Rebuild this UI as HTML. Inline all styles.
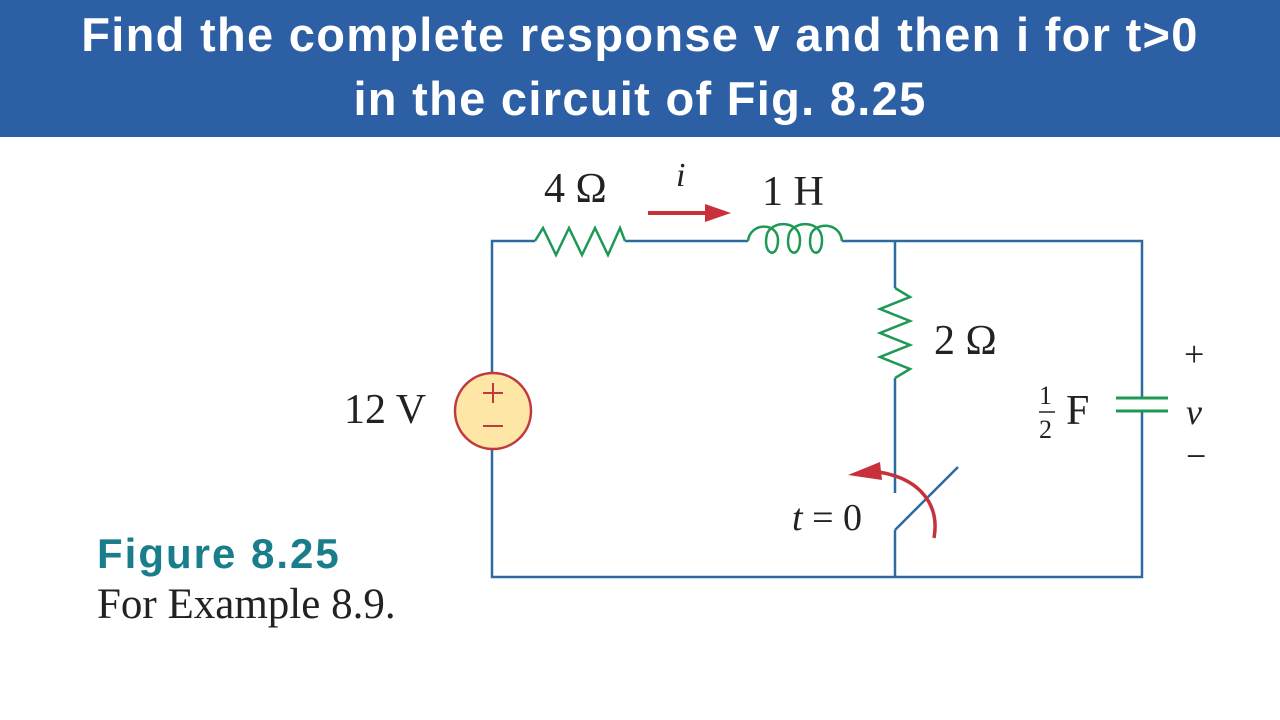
<!DOCTYPE html>
<html><head><style>
body{margin:0;width:1280px;height:720px;background:#fff;overflow:hidden;position:relative;font-family:"Liberation Serif",serif}
.hdr{position:absolute;left:0;top:0;width:1280px;height:137px;background:#2d5fa5;color:#fff;font-family:"Liberation Sans",sans-serif;font-weight:bold;font-size:47px;letter-spacing:1.3px;text-align:center;line-height:64px;box-sizing:border-box;padding-top:3px}
</style></head><body>
<div class="hdr">Find the complete response v and then i for t&gt;0<br>in the circuit of Fig. 8.25</div>
<svg width="1280" height="720" style="position:absolute;left:0;top:0">
<g fill="none" stroke="#2d6aa0" stroke-width="2.5">
<path d="M492,373 V241 H535 M625,241 H748 M842,241 H1142 V398 M1142,411 V577 H492 V449"/>
<path d="M895,241 V288 M895,378 V493 M895,530 V577 M895,530 L958,467"/>
</g>
<g fill="none" stroke="#1e9955" stroke-width="2.5">
<path d="M535,241 L543,228 L556,255 L569,228 L582,255 L595,228 L608,255 L620,228 L625,241"/>
<path d="M748,241 C750,222 778,222 778,240 C778,260 762,255 767,234 C772,220 800,220 800,240 C800,260 784,255 789,234 C794,220 822,220 822,240 C822,260 806,255 811,234 C816,222 840,222 842,241"/>
<path d="M895,288 L910,297 L880,309 L910,321 L880,333 L910,345 L880,357 L910,369 L895,378"/>
<path d="M1116,398 H1168 M1116,411 H1168" stroke-width="3"/>
</g>
<circle cx="493" cy="411" r="38" fill="#fde6a6" stroke="#c0393f" stroke-width="2.5"/>
<path d="M483,393 H503 M493,383 V403 M483,426 H503" stroke="#c0393f" stroke-width="2"/>
<path d="M648,213 H710" stroke="#c8303a" stroke-width="4"/>
<path d="M705,204 L731,213 L705,222Z" fill="#c8303a"/>
<path d="M934,538 C940,505 920,478 878,472" fill="none" stroke="#c8303a" stroke-width="3.5"/>
<path d="M848,475 L880,462 L882,480Z" fill="#c8303a"/>
<g font-size="42" fill="#222">
<text x="544" y="202">4 Ω</text>
<text x="676" y="186" font-style="italic" font-size="34">i</text>
<text x="762" y="205">1 H</text>
<text x="934" y="354">2 Ω</text>
<text x="344" y="423">12 V</text>
<text x="1066" y="424">F</text>
<text x="1039" y="404" font-size="26">1</text>
<text x="1039" y="438" font-size="26">2</text>
<text x="1186" y="424" font-style="italic" font-size="36">v</text>
<text x="1184" y="366" font-size="36">+</text>
<text x="1186" y="468" font-size="36">−</text>
<text x="792" y="530" font-size="38"><tspan font-style="italic">t</tspan> = 0</text>
<text x="97" y="618" font-size="43">For Example 8.9.</text>
</g>
<path d="M1039,412 H1055" stroke="#222" stroke-width="1.5"/>
<text x="97" y="568" font-family="Liberation Sans,sans-serif" font-weight="bold" font-size="42" letter-spacing="2" fill="#197d8c">Figure 8.25</text>
</svg>
</body></html>
